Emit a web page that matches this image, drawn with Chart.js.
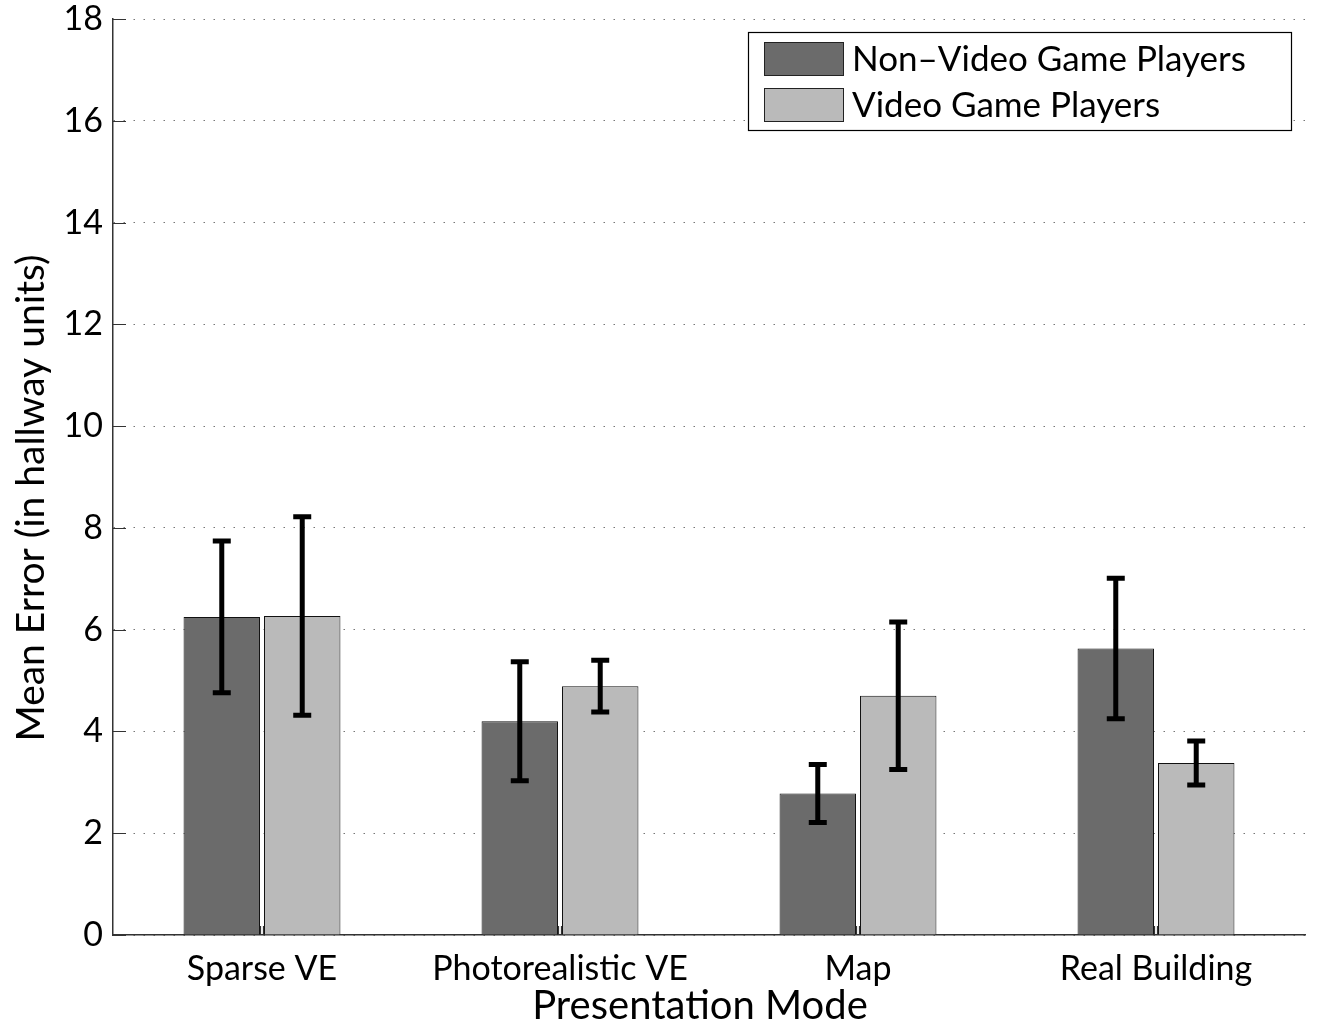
<!DOCTYPE html>
<html>
<head>
<meta charset="utf-8">
<script src="https://cdn.jsdelivr.net/npm/chart.js@4.4.1/dist/chart.umd.min.js"></script>
<style>
  html, body { margin: 0; padding: 0; background: #ffffff; }
  #wrap { width: 1318px; height: 1028px; }
</style>
</head>
<body>
<div id="wrap"><canvas id="chart" width="1318" height="1028"></canvas></div>
<script>
// Presentation modes along the x axis
const categories = ['Sparse VE', 'Photorealistic VE', 'Map', 'Real Building'];

// Mean error (hallway units) per group
const nonPlayersMean = [6.25, 4.20, 2.78, 5.63];
const playersMean    = [6.27, 4.89, 4.70, 3.38];

// Error bar half-lengths
const nonPlayersErr = [1.49, 1.17, 0.57, 1.38];
const playersErr    = [1.95, 0.51, 1.45, 0.43];

const seriesLabels = ['Non\u2013Video Game Players', 'Video Game Players'];
const yTicks = [0, 2, 4, 6, 8, 10, 12, 14, 16, 18];
const yTitle = 'Mean Error (in hallway units)';
const xTitle = 'Presentation Mode';

const FONT = 'Lato, "Open Sans", sans-serif';
const DARK = '#6b6b6b';
const LIGHT = '#bababa';

// Vertical error bars with caps
const errorBars = {
  id: 'errorBars',
  afterDatasetsDraw(chart) {
    const ctx = chart.ctx;
    const y = chart.scales.y;
    chart.data.datasets.forEach((ds, di) => {
      const meta = chart.getDatasetMeta(di);
      meta.data.forEach((bar, i) => {
        const v = ds.data[i], e = ds.errors[i];
        const yHi = y.getPixelForValue(v + e);
        const yLo = y.getPixelForValue(v - e);
        const x = bar.x;
        ctx.save();
        ctx.strokeStyle = '#000';
        ctx.lineWidth = 5;
        ctx.beginPath();
        ctx.moveTo(x, yHi); ctx.lineTo(x, yLo);
        ctx.moveTo(x - 9, yHi); ctx.lineTo(x + 9, yHi);
        ctx.moveTo(x - 9, yLo); ctx.lineTo(x + 9, yLo);
        ctx.stroke();
        ctx.restore();
      });
    });
  }
};

// Inward tick marks on both axes, plus the axis titles
const axisExtras = {
  id: 'axisExtras',
  afterDatasetsDraw(chart) {
    const ctx = chart.ctx;
    const { x, y } = chart.scales;
    const area = chart.chartArea;
    ctx.save();
    ctx.strokeStyle = '#333';
    ctx.lineWidth = 1.2;
    ctx.beginPath();
    yTicks.forEach(t => {
      const py = Math.round(y.getPixelForValue(t)) + 0.5;
      ctx.moveTo(area.left, py); ctx.lineTo(area.left + 13, py);
    });
    categories.forEach((c, i) => {
      const px = x.getPixelForValue(i);
      ctx.moveTo(px - 1.5, area.bottom); ctx.lineTo(px - 1.5, area.bottom - 9);
      ctx.moveTo(px + 1.5, area.bottom); ctx.lineTo(px + 1.5, area.bottom - 9);
    });
    ctx.stroke();

    ctx.fillStyle = '#000';
    ctx.textAlign = 'center';
    ctx.textBaseline = 'middle';
    ctx.font = '40px ' + FONT;
    ctx.fillText(xTitle, 700, 1006);

    ctx.translate(31, 498);
    ctx.rotate(-Math.PI / 2);
    ctx.font = '39px ' + FONT;
    ctx.fillText(yTitle, 0, 0);
    ctx.restore();
  }
};

// Boxed legend in the upper right
const boxLegend = {
  id: 'boxLegend',
  afterDraw(chart) {
    const ctx = chart.ctx;
    ctx.save();
    ctx.fillStyle = '#fff';
    ctx.fillRect(748, 32, 543, 98);
    ctx.strokeStyle = '#000';
    ctx.lineWidth = 1.2;
    ctx.strokeRect(748.5, 32.5, 543, 98);
    const rows = [42, 88];
    chart.data.datasets.forEach((ds, i) => {
      ctx.fillStyle = ds.backgroundColor;
      ctx.fillRect(764, rows[i], 79, 33);
      ctx.strokeStyle = '#222';
      ctx.lineWidth = 1;
      ctx.strokeRect(764.5, rows[i] + 0.5, 79, 33);
      ctx.fillStyle = '#000';
      ctx.font = '35px ' + FONT;
      ctx.textBaseline = 'middle';
      ctx.textAlign = 'left';
      ctx.fillText(ds.label, 852, rows[i] + 18);
    });
    ctx.restore();
  }
};

new Chart(document.getElementById('chart'), {
  type: 'bar',
  data: {
    labels: categories,
    datasets: [
      { label: seriesLabels[0], data: nonPlayersMean, errors: nonPlayersErr,
        backgroundColor: DARK, borderColor: '#111', borderWidth: 1 },
      { label: seriesLabels[1], data: playersMean, errors: playersErr,
        backgroundColor: LIGHT, borderColor: '#111', borderWidth: 1 }
    ]
  },
  options: {
    responsive: false,
    animation: false,
    devicePixelRatio: 1,
    categoryPercentage: 0.54,
    barPercentage: 0.95,
    layout: { padding: { top: 19, right: 13, left: 0, bottom: 0 } },
    plugins: { legend: { display: false }, tooltip: { enabled: false } },
    scales: {
      x: {
        grid: { display: false },
        border: { display: true, color: '#333', width: 1.5 },
        ticks: { color: '#000', font: { family: FONT, size: 34 }, padding: 6 },
        title: { display: false },
        afterFit(scale) { scale.height = 93; scale.paddingLeft = 0; scale.paddingRight = 0; }
      },
      y: {
        min: 0, max: 18,
        afterBuildTicks(scale) { scale.ticks = yTicks.map(v => ({ value: v })); },
        grid: { color: '#777', lineWidth: 1, drawTicks: false, tickLength: 0 },
        border: { display: true, color: '#333', width: 1.5, dash: [1.5, 8.5] },
        ticks: { color: '#000', font: { family: FONT, size: 34 }, padding: 10 },
        title: { display: false },
        afterFit(scale) { scale.width = 113; scale.paddingTop = 0; scale.paddingBottom = 0; }
      }
    }
  },
  plugins: [errorBars, axisExtras, boxLegend]
});
</script>
</body>
</html>
